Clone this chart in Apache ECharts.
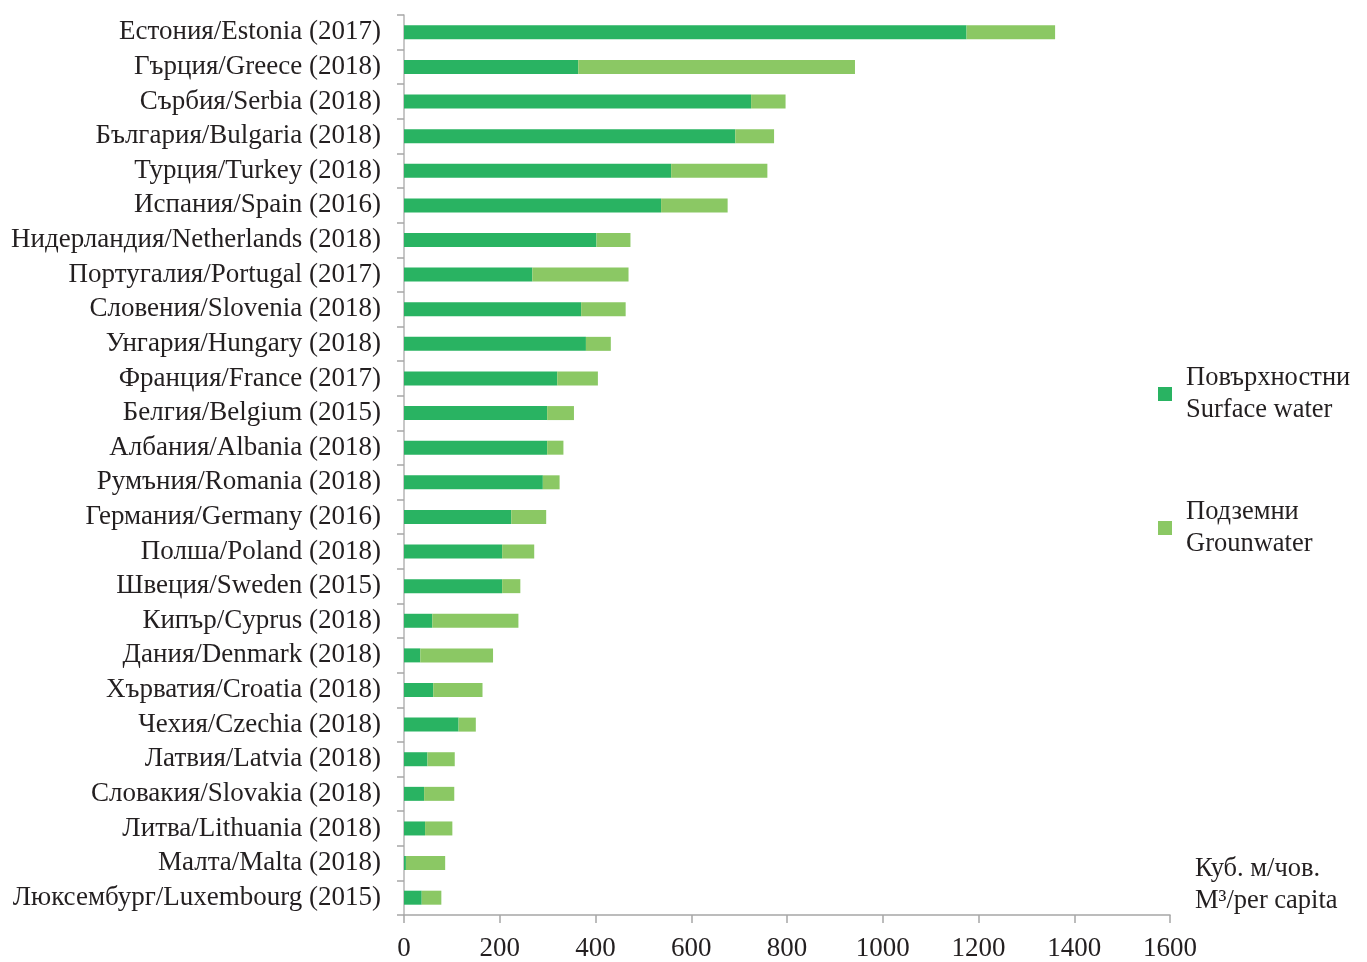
<!DOCTYPE html>
<html>
<head>
<meta charset="utf-8">
<script src="https://cdn.jsdelivr.net/npm/echarts@6/dist/echarts.min.js"></script>
<style>
html,body{margin:0;padding:0;background:#fff;}
#chart{width:1367px;height:962px;}
</style>
</head>
<body>
<div id="chart"></div>
<script>
var categories = [
  'Естония/Estonia (2017)','Гърция/Greece (2018)','Сърбия/Serbia (2018)','България/Bulgaria (2018)',
  'Турция/Turkey (2018)','Испания/Spain (2016)','Нидерландия/Netherlands (2018)','Португалия/Portugal (2017)',
  'Словения/Slovenia (2018)','Унгария/Hungary (2018)','Франция/France (2017)','Белгия/Belgium (2015)',
  'Албания/Albania (2018)','Румъния/Romania (2018)','Германия/Germany (2016)','Полша/Poland (2018)',
  'Швеция/Sweden (2015)','Кипър/Cyprus (2018)','Дания/Denmark (2018)','Хърватия/Croatia (2018)',
  'Чехия/Czechia (2018)','Латвия/Latvia (2018)','Словакия/Slovakia (2018)','Литва/Lithuania (2018)',
  'Малта/Malta (2018)','Люксембург/Luxembourg (2015)'
];
var surfaceWater = [1175,364,725,692,558,537,402,268,370,380,320,299,299,290,224,205,205,59,34,61,114,49,42,44,4,37];
var groundwater  = [185,578,72,81,201,139,71,201,93,52,85,56,34,35,73,67,38,180,152,103,36,57,63,57,82,41];
var seriesNames = ['Повърхностни\nSurface water', 'Подземни\nGrounwater'];
var xTicks = {min:0, max:1600, interval:200};
var unitText = 'Куб. м/чов.\nM³/per capita';

var font = '"Liberation Serif","Times New Roman",serif';
var chart = echarts.init(document.getElementById('chart'));
chart.setOption({
  animation:false,
  backgroundColor:'#fff',
  textStyle:{fontFamily:font},
  grid:{left:404, right:197, top:15, bottom:46, containLabel:false},
  legend:{
    orient:'vertical', left:1158, top:362, itemGap:70, padding:0,
    itemWidth:14, itemHeight:14, icon:'rect',
    data:seriesNames,
    textStyle:{fontFamily:font, fontSize:26.5, color:'#231f20', lineHeight:32, padding:[0,0,0,9]}
  },
  xAxis:{
    type:'value', min:xTicks.min, max:xTicks.max, interval:xTicks.interval,
    splitLine:{show:false},
    axisLine:{show:true, lineStyle:{color:'#a6a6a6', width:1.5}},
    axisTick:{show:true, length:8, lineStyle:{color:'#a6a6a6', width:1.5}},
    axisLabel:{fontFamily:font, fontSize:27, color:'#231f20', margin:20,
      formatter:function(v){return String(v);}}
  },
  yAxis:{
    type:'category', inverse:true, data:categories,
    axisLine:{show:true, lineStyle:{color:'#b5b5b5', width:1.5}},
    axisTick:{show:true, length:7, lineStyle:{color:'#a6a6a6', width:1.5}},
    axisLabel:{fontFamily:font, fontSize:27, color:'#231f20', margin:23, interval:0,
      padding:[8,0,0,0]}
  },
  graphic:[{
    type:'text', left:1195, top:853,
    style:{text:unitText, font:'26.5px '+font, fill:'#231f20', lineHeight:32}
  }],
  series:[
    {name:seriesNames[0], type:'bar', stack:'w', data:surfaceWater, barWidth:14,
     itemStyle:{color:'#29b362'}},
    {name:seriesNames[1], type:'bar', stack:'w', data:groundwater, barWidth:14,
     itemStyle:{color:'#8bc864'}}
  ]
});
</script>
</body>
</html>
